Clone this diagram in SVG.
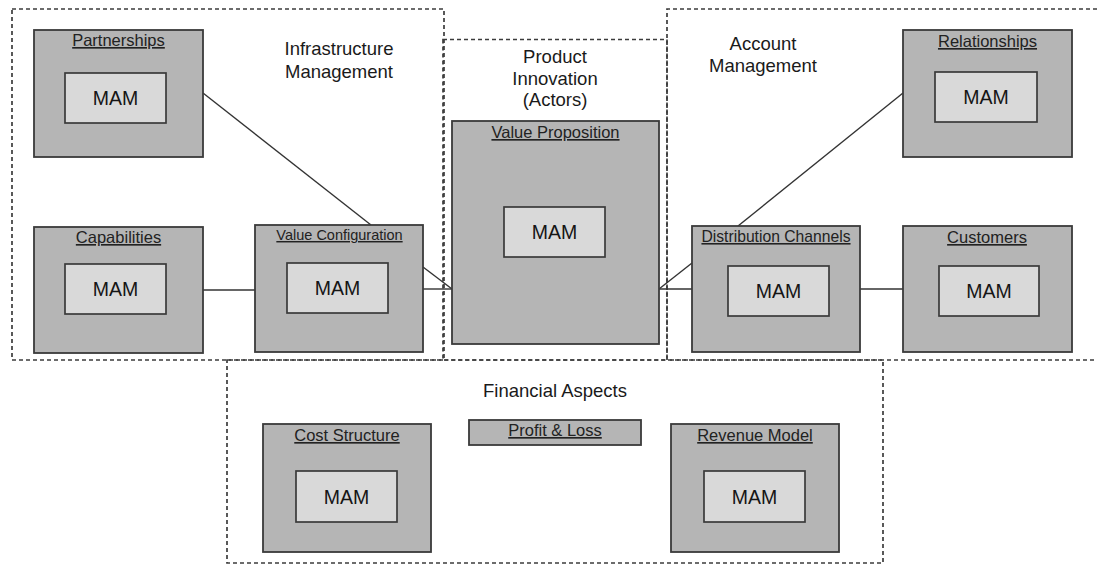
<svg xmlns="http://www.w3.org/2000/svg" width="1097" height="566" viewBox="0 0 1097 566">
  <style>
    .region { fill: none; stroke: #3c3c3c; stroke-width: 1.7; stroke-dasharray: 4 3; }
    .region-label { font-family: "Liberation Sans", Arial, sans-serif; font-size: 18.5px; fill: #1a1a1a; text-anchor: middle; }
    .outer { fill: #b5b5b5; stroke: #3a3a3a; stroke-width: 1.8; }
    .inner { fill: #d9d9d9; stroke: #3a3a3a; stroke-width: 1.7; }
    .title { font-family: "Liberation Sans", Arial, sans-serif; font-size: 16.5px; fill: #222; text-anchor: middle; text-decoration: underline; }
    .mam { font-family: "Liberation Sans", Arial, sans-serif; font-size: 19.5px; fill: #151515; text-anchor: middle; }
    .link { fill: none; stroke: #333; stroke-width: 1.4; }
  </style>
  <rect width="1097" height="566" fill="#ffffff"/>

  <!-- dashed grouping regions -->
  <g id="regions">
    <g id="region-infrastructure">
      <rect class="region" x="12" y="9" width="432" height="351"/>
      <text class="region-label" x="339" y="55">Infrastructure</text>
      <text class="region-label" x="339" y="78">Management</text>
    </g>
    <g id="region-product">
      <rect class="region" x="443" y="39.5" width="224" height="320.5"/>
      <text class="region-label" x="555" y="63">Product</text>
      <text class="region-label" x="555" y="85">Innovation</text>
      <text class="region-label" x="555" y="106">(Actors)</text>
    </g>
    <g id="region-account">
      <path class="region" d="M1097 9 H667 V360 H1097"/>
      <text class="region-label" x="763" y="50">Account</text>
      <text class="region-label" x="763" y="72">Management</text>
    </g>
    <g id="region-financial">
      <rect class="region" x="227" y="360" width="656" height="203"/>
      <text class="region-label" x="555" y="397">Financial Aspects</text>
    </g>
  </g>

  <!-- connectors between building blocks -->
  <g id="connectors">
    <line class="link" x1="203" y1="93" x2="371" y2="225"/>
    <line class="link" x1="203" y1="290" x2="255" y2="290" stroke-width="2.2"/>
    <line class="link" x1="423" y1="267" x2="452" y2="289"/>
    <line class="link" x1="423" y1="289" x2="452" y2="289"/>
    <line class="link" x1="659" y1="289" x2="692" y2="263"/>
    <line class="link" x1="659" y1="289" x2="692" y2="289"/>
    <line class="link" x1="738" y1="226" x2="903" y2="93"/>
    <line class="link" x1="860" y1="289" x2="903" y2="289"/>
  </g>

  <g id="partnerships">
    <rect class="outer" x="34" y="30" width="169" height="127"/>
    <text class="title" x="118.5" y="46">Partnerships</text>
    <rect class="inner" x="65" y="73" width="101" height="50"/>
    <text class="mam" x="115.5" y="105">MAM</text>
  </g>

  <g id="capabilities">
    <rect class="outer" x="34" y="227" width="169" height="126"/>
    <text class="title" x="118.5" y="243">Capabilities</text>
    <rect class="inner" x="65" y="264" width="101" height="50"/>
    <text class="mam" x="115.5" y="296">MAM</text>
  </g>

  <g id="value-configuration">
    <rect class="outer" x="255" y="225" width="168" height="127"/>
    <text class="title" x="339.5" y="240" style="font-size:14.5px">Value Configuration</text>
    <rect class="inner" x="287" y="263" width="101" height="50"/>
    <text class="mam" x="337.5" y="295">MAM</text>
  </g>

  <g id="value-proposition">
    <rect class="outer" x="452" y="121" width="207" height="223"/>
    <text class="title" x="555.5" y="138">Value Proposition</text>
    <rect class="inner" x="504" y="207" width="101" height="50"/>
    <text class="mam" x="554.5" y="239">MAM</text>
  </g>

  <g id="distribution-channels">
    <rect class="outer" x="692" y="226" width="168" height="126"/>
    <text class="title" x="776" y="242" style="font-size:15.7px">Distribution Channels</text>
    <rect class="inner" x="728" y="266" width="101" height="50"/>
    <text class="mam" x="778.5" y="298">MAM</text>
  </g>

  <g id="relationships">
    <rect class="outer" x="903" y="30" width="169" height="127"/>
    <text class="title" x="987.5" y="47">Relationships</text>
    <rect class="inner" x="935" y="72" width="102" height="50"/>
    <text class="mam" x="986" y="104">MAM</text>
  </g>

  <g id="customers">
    <rect class="outer" x="903" y="226" width="169" height="126"/>
    <text class="title" x="987" y="243">Customers</text>
    <rect class="inner" x="939" y="266" width="100" height="50"/>
    <text class="mam" x="989" y="298">MAM</text>
  </g>

  <g id="cost-structure">
    <rect class="outer" x="263" y="424" width="168" height="128"/>
    <text class="title" x="347" y="441">Cost Structure</text>
    <rect class="inner" x="296" y="471" width="101" height="51"/>
    <text class="mam" x="346.5" y="503.5">MAM</text>
  </g>

  <g id="profit-loss">
    <rect class="outer" x="469" y="420" width="172" height="25"/>
    <text class="title" x="555" y="436">Profit &amp; Loss</text>
  </g>

  <g id="revenue-model">
    <rect class="outer" x="671" y="424" width="168" height="128"/>
    <text class="title" x="755" y="441">Revenue Model</text>
    <rect class="inner" x="704" y="471" width="101" height="51"/>
    <text class="mam" x="754.5" y="503.5">MAM</text>
  </g>
</svg>
